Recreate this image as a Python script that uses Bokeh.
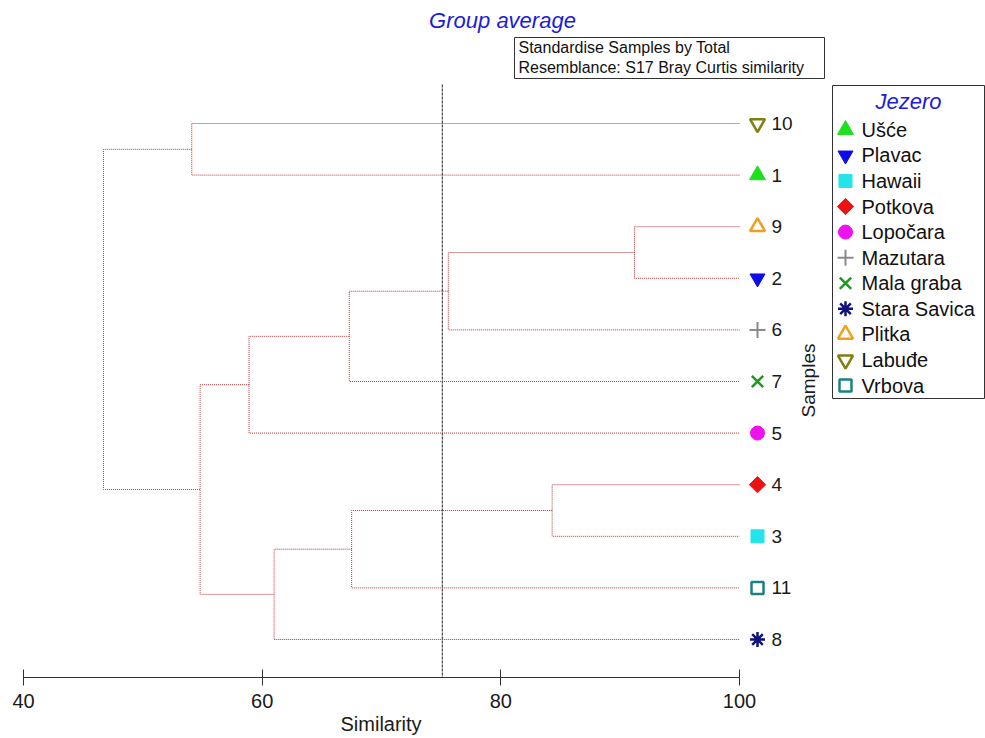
from math import pi
from bokeh.plotting import figure
from bokeh.models import (Range1d, LinearAxis, FixedTicker, Label, BoxAnnotation,
                          ColumnDataSource, Title)
from bokeh.embed import file_html
from bokeh.resources import INLINE
from bokeh.core.properties import value

# ---------------- data ----------------
SAMPLE_IDS = [1, 2, 3, 4, 5, 6, 7, 8, 9, 10, 11]
LAKES = ["Ušće", "Plavac", "Hawaii", "Potkova", "Lopočara", "Mazutara",
         "Mala graba", "Stara Savica", "Plitka", "Labuđe", "Vrbova"]
LEAF_ORDER = [10, 1, 9, 2, 6, 7, 5, 4, 3, 11, 8]          # top to bottom
MERGE_A = ["9", "n1", "n2", "n3", "4", "n5", "n6", "n4", "10", "n9"]
MERGE_B = ["2", "6", "7", "5", "3", "11", "8", "n7", "1", "n8"]
MERGE_SIM = [91.2, 75.6, 67.3, 58.9, 84.3, 67.5, 61.0, 54.8, 54.1, 46.7]
CUT_LEVEL = 75.1
TICKS = [40, 60, 80, 100]

# ---------------- styles ----------------
MARKERS = ["triangle", "inverted_triangle", "square", "square", "circle", "cross",
           "x", "asterisk", "triangle", "inverted_triangle", "square"]
ANGLES = [0, 0, 0, pi / 4, 0, 0, 0, 0, 0, 0, 0]
COLORS = ["#1ee01e", "#0d0de8", "#22e4ea", "#ee1111", "#ee12ee", "#8a8a8a",
          "#1d9a1d", "#12127e", "#f0a020", "#7f7f12", "#1a8282"]
FILLED = [True, True, True, True, True, False, False, False, False, False, False]
SIZES = [16, 15, 13, 11.5, 14, 16, 16, 15, 15, 15, 12]
LINE_W = [1, 1, 1, 1, 1, 2, 2.5, 2.5, 2.5, 2.5, 2.5]

FONT = "Liberation Sans"
BLUE = "#1c1cd8"
LINE_RED = "#b83434"
TEXT_C = "#1a1a1a"

W, H = 985, 738
# page-pixel calibration
PX40, PX100 = 23.0, 739.0
KX = (PX100 - PX40) / (TICKS[-1] - TICKS[0])
TOP_LEAF_PY, LEAF_STEP = 123.0, 51.6
FRAME_BOTTOM_PY = 677
n_leaves = len(LEAF_ORDER)
BOTTOM_LEAF_PY = TOP_LEAF_PY + LEAF_STEP * (n_leaves - 1)


def px(page_x):
    return TICKS[0] + (page_x - PX40) / KX


def py(page_y):
    return (BOTTOM_LEAF_PY - page_y) / LEAF_STEP


p = figure(width=W, height=H, x_range=Range1d(px(0), px(W)),
           y_range=Range1d(py(FRAME_BOTTOM_PY), py(0)),
           x_axis_type=None, y_axis_type=None, toolbar_location=None,
           output_backend="svg", min_border_left=0, min_border_right=0,
           min_border_top=0, min_border_bottom=H - FRAME_BOTTOM_PY,
           outline_line_color=None, background_fill_color="white",
           border_fill_color="white")

# ---------------- dendrogram ----------------
pos = {}
for i, s in enumerate(LEAF_ORDER):
    pos[str(s)] = (float(TICKS[-1]), float(n_leaves - 1 - i))

xs_list, ys_list = [], []
for i, (a, b, s) in enumerate(zip(MERGE_A, MERGE_B, MERGE_SIM)):
    xa, ya = pos[a]
    xb, yb = pos[b]
    xs_list.append([xa, s, s, xb])
    ys_list.append([ya, ya, yb, yb])
    pos["n%d" % (i + 1)] = (s, (ya + yb) / 2.0)

p.multi_line(xs=xs_list, ys=ys_list, line_color=LINE_RED, line_width=1,
             line_dash="1 1")

# cut line
p.segment(x0=[CUT_LEVEL], y0=[py(84)], x1=[CUT_LEVEL], y1=[py(FRAME_BOTTOM_PY)],
          line_color="#444444", line_width=1.2, line_dash="3 1")


def draw_marker(i, xs, ys):
    src = ColumnDataSource(dict(x=xs, y=ys))
    return p.scatter(x="x", y="y", source=src, marker=MARKERS[i], size=SIZES[i],
                     angle=ANGLES[i], line_color=COLORS[i], line_width=LINE_W[i],
                     fill_color=COLORS[i] if FILLED[i] else None)


# ---------------- leaf markers & labels ----------------
MARKER_X = px(757)
LABEL_X = px(771)
for i, sid in enumerate(SAMPLE_IDS):
    draw_marker(i, [MARKER_X], [pos[str(sid)][1]])

leaf_src = ColumnDataSource(dict(x=[LABEL_X] * n_leaves,
                                 y=[pos[str(s)][1] for s in LEAF_ORDER],
                                 t=[str(s) for s in LEAF_ORDER]))
p.text(x="x", y="y", text="t", source=leaf_src, text_font=value(FONT),
       text_font_size="19px", text_baseline="middle", text_align="left",
       text_color=TEXT_C)

# ---------------- axis ----------------
ax = LinearAxis(ticker=FixedTicker(ticks=TICKS), bounds=(TICKS[0], TICKS[-1]))
ax.major_tick_in = 8
ax.major_tick_out = 8
ax.minor_tick_in = 0
ax.minor_tick_out = 0
ax.axis_line_color = "#333333"
ax.major_tick_line_color = "#333333"
ax.major_label_text_font = FONT
ax.major_label_text_font_size = "20px"
ax.major_label_text_color = TEXT_C
ax.major_label_standoff = 8
p.add_layout(ax, "below")

# axis title, centred under the 40-100 axis rule
XLABEL_W = 81
p.add_layout(Title(text="Similarity", align="left",
                   offset=int(round((PX40 + PX100) / 2 - XLABEL_W / 2)),
                   text_font=FONT, text_font_size="20px", text_font_style="normal",
                   text_color=TEXT_C, standoff=0), "below")

p.add_layout(Label(x=px(808), y=py(380), text="Samples", angle=pi / 2,
                   text_font=FONT, text_font_size="19px", text_align="center",
                   text_baseline="middle", text_color=TEXT_C))

# ---------------- title & info box ----------------
p.add_layout(Label(x=px(502), y=py(20), text="Group average", text_font=FONT,
                   text_font_size="22px", text_font_style="italic",
                   text_color=BLUE, text_align="center", text_baseline="middle"))

p.add_layout(BoxAnnotation(left=px(514), right=px(824), top=py(37), bottom=py(78),
                           fill_color="white", fill_alpha=1.0,
                           line_color="#333333", line_alpha=1.0, line_width=1))
p.add_layout(Label(x=px(518), y=py(47), text="Standardise Samples by Total",
                   text_font=FONT, text_font_size="16px", text_baseline="middle",
                   text_color="#111111"))
p.add_layout(Label(x=px(518), y=py(67), text="Resemblance: S17 Bray Curtis similarity",
                   text_font=FONT, text_font_size="16px", text_baseline="middle",
                   text_color="#111111"))

# ---------------- legend (Jezero) ----------------
LEG_LEFT, LEG_RIGHT, LEG_TOP, LEG_BOTTOM = 832, 984, 85, 398
LEG_MARK_X, LEG_TEXT_X = 845, 861
LEG_ROW0, LEG_ROW_STEP = 129.3, 25.57

p.add_layout(BoxAnnotation(left=px(LEG_LEFT), right=px(LEG_RIGHT), top=py(LEG_TOP),
                           bottom=py(LEG_BOTTOM), fill_color="white", fill_alpha=1.0,
                           line_color="#333333", line_alpha=1.0, line_width=1,
                           level="underlay"))
p.add_layout(Label(x=px((LEG_LEFT + LEG_RIGHT) / 2), y=py(101), text="Jezero",
                   text_font=FONT, text_font_size="22px", text_font_style="italic",
                   text_color=BLUE, text_align="center", text_baseline="middle"))

leg_rows = [py(LEG_ROW0 + LEG_ROW_STEP * i) for i in range(len(LAKES))]
for i in range(len(SAMPLE_IDS)):
    draw_marker(i, [px(LEG_MARK_X)], [leg_rows[i]])
leg_src = ColumnDataSource(dict(x=[px(LEG_TEXT_X)] * len(LAKES), y=leg_rows, t=LAKES))
p.text(x="x", y="y", text="t", source=leg_src, text_font=value(FONT),
       text_font_size="20px", text_baseline="middle", text_align="left",
       text_color="#111111")

open("out.html", "w").write(file_html(p, INLINE))
